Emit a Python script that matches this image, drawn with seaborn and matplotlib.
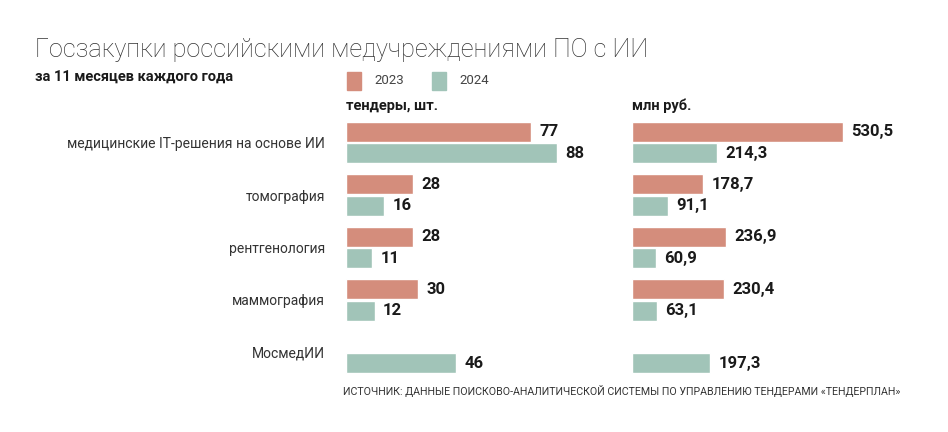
import matplotlib
matplotlib.use('Agg')
import matplotlib.pyplot as plt
import seaborn as sns
import pandas as pd
import numpy as np

categories = ['медицинские IT-решения на основе ИИ', 'томография', 'рентгенология',
              'маммография', 'МосмедИИ']
years = ['2023', '2024']
tenders_2023 = [77, 28, 28, 30, np.nan]
tenders_2024 = [88, 16, 11, 12, 46]
money_2023 = [530.5, 178.7, 236.9, 230.4, np.nan]
money_2024 = [214.3, 91.1, 60.9, 63.1, 197.3]

colors = {'2023': '#D48D7C', '2024': '#A1C4B8'}

sns.set_theme(style='white')
plt.rcParams['font.family'] = ['Roboto', 'DejaVu Sans']

def long_df(v23, v24):
    rows = []
    for c, a, b in zip(categories, v23, v24):
        rows.append({'cat': c, 'year': '2023', 'val': a})
        rows.append({'cat': c, 'year': '2024', 'val': b})
    return pd.DataFrame(rows)

df_t = long_df(tenders_2023, tenders_2024)
df_m = long_df(money_2023, money_2024)

fig = plt.figure(figsize=(9.48, 4.32), dpi=100)
ax1 = fig.add_axes([346 / 948, 1 - 378.75 / 432, 270 / 948, 262.5 / 432])
ax2 = fig.add_axes([632 / 948, 1 - 378.75 / 432, 270 / 948, 262.5 / 432])

for ax, df, xmax, fmt in [(ax1, df_t, 270 / 2.4, lambda v: f'{v:.0f}'),
                          (ax2, df_m, 270 / 0.3977, lambda v: f'{v:.1f}'.replace('.', ','))]:
    sns.barplot(data=df, y='cat', x='val', hue='year', hue_order=years,
                order=categories, palette=colors, orient='h', width=0.82,
                gap=0.06, legend=False, ax=ax, saturation=1)
    for cont in ax.containers:
        ax.bar_label(cont, fmt=fmt, padding=6, fontsize=12, fontweight='bold',
                     color='#1a1a1a')
    ax.set_xlim(0, xmax)
    ax.set_ylim(4.5, -0.5)
    ax.set_xlabel('')
    ax.set_ylabel('')
    ax.set_xticks([])
    sns.despine(ax=ax, left=True, bottom=True)

ax1.tick_params(axis='y', length=0, pad=15, labelsize=10, labelcolor='#333333')
ax2.set_yticks([])

fig.text(35 / 948, 1 - 50 / 432, 'Госзакупки российскими медучреждениями ПО с ИИ',
         fontsize=18.2, fontweight='light', color='#333333', va='center')
fig.text(35 / 948, 1 - 77 / 432, 'за 11 месяцев каждого года',
         fontsize=10.5, fontweight='bold', color='#1a1a1a', va='center')

# legend
for i, y in enumerate(years):
    x0 = 347 + i * 85
    fig.patches.append(plt.Rectangle((x0 / 948, 1 - 90 / 432), 14 / 948, 18 / 432,
                                     transform=fig.transFigure, color=colors[y]))
    fig.text((x0 + 27) / 948, 1 - 81 / 432, y, fontsize=9.5, color='#444444',
             va='center')

fig.text(346 / 948, 1 - 106 / 432, 'тендеры, шт.', fontsize=10.5,
         fontweight='bold', color='#1a1a1a', va='center')
fig.text(632 / 948, 1 - 106 / 432, 'млн руб.', fontsize=10.5,
         fontweight='bold', color='#1a1a1a', va='center')

fig.text(343 / 948, 1 - 391 / 432,
         'ИСТОЧНИК: ДАННЫЕ ПОИСКОВО-АНАЛИТИЧЕСКОЙ СИСТЕМЫ ПО УПРАВЛЕНИЮ ТЕНДЕРАМИ «ТЕНДЕРПЛАН»',
         fontsize=7.65, color='#333333', va='center')

fig.savefig('out.png', dpi=100)
